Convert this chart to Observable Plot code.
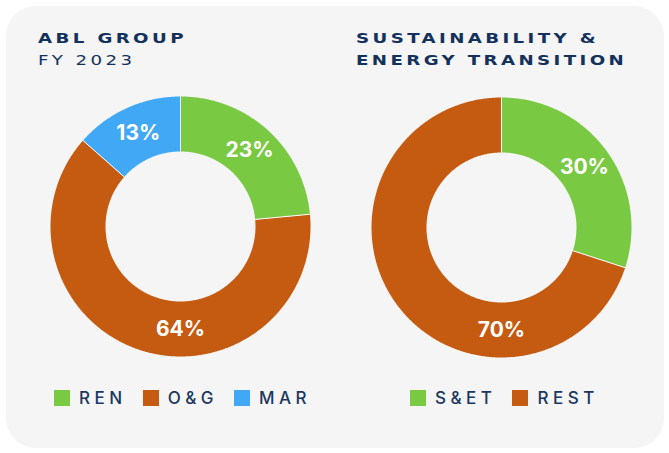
<!DOCTYPE html>
<html><head><meta charset="utf-8">
<script src="https://cdn.jsdelivr.net/npm/d3@7"></script>
<script src="https://cdn.jsdelivr.net/npm/@observablehq/plot@0.6"></script>
<style>
html,body{margin:0;padding:0;background:#fff;width:669px;height:453px;overflow:hidden;}
#card{position:absolute;left:6px;top:6px;width:658px;height:442px;background:#f5f5f5;border-radius:30px;}
.title{position:absolute;color:#14315b;font-family:"DejaVu Sans",sans-serif;font-size:14px;letter-spacing:2.6px;line-height:22px;transform:scaleX(1.3);transform-origin:0 0;white-space:nowrap;}
.title b{font-weight:700;}
.title span{font-weight:400;}
.donut{position:absolute;}
.leg{position:absolute;}
.lg-swatch{margin-right:16px !important;}
.lg-swatch > svg{margin-right:9px !important;}
</style>
</head><body>
<div id="card"></div>
<div class="title" style="left:38px;top:27px;"><b>ABL GROUP</b><br><span>FY 2023</span></div>
<div class="title" style="left:356px;top:27px;"><b>SUSTAINABILITY &amp;<br>ENERGY TRANSITION</b></div>
<div id="d1" class="donut" style="left:40px;top:86px;"></div>
<div id="d2" class="donut" style="left:360.5px;top:87px;"></div>
<div id="l1" class="leg" style="left:54px;top:381.5px;"></div>
<div id="l2" class="leg" style="left:410px;top:381.5px;"></div>
<script>
// ---- data ----
const groupCategories = ["REN", "O&G", "MAR"];
const groupValues = [23.5, 63, 13.5];
const groupLabels = ["23%", "64%", "13%"];

const setCategories = ["S&ET", "REST"];
const setValues = [30, 70];
const setLabels = ["30%", "70%"];

// ---- styles ----
const groupColors = ["#7ac943", "#c55b11", "#41a8f5"];
const setColors = ["#7ac943", "#c55b11"];

function donut(cats, vals, labels, colors) {
  const R = 130, r = 75, half = 140;
  const total = d3.sum(vals);
  let acc = 0;
  const slices = cats.map((c, i) => {
    const a0 = acc / total * 2 * Math.PI;
    acc += vals[i];
    const a1 = acc / total * 2 * Math.PI;
    return {cat: c, a0, a1, label: labels[i]};
  });
  const pts = [];
  for (const s of slices) {
    const n = Math.max(8, Math.ceil((s.a1 - s.a0) / 0.01));
    for (let k = 0; k <= n; k++) {
      const a = s.a0 + (s.a1 - s.a0) * k / n;
      pts.push({cat: s.cat, x: R * Math.sin(a), y: R * Math.cos(a)});
    }
    for (let k = n; k >= 0; k--) {
      const a = s.a0 + (s.a1 - s.a0) * k / n;
      pts.push({cat: s.cat, x: r * Math.sin(a), y: r * Math.cos(a)});
    }
  }
  const seps = slices.map(s => ({x1: r * Math.sin(s.a0), y1: r * Math.cos(s.a0), x2: R * Math.sin(s.a0), y2: R * Math.cos(s.a0)}));
  const lr = (R + r) / 2;
  const lab = slices.map(s => {
    const a = (s.a0 <= Math.PI && s.a1 >= Math.PI) ? Math.PI : (s.a0 + s.a1) / 2;
    return {x: lr * Math.sin(a), y: lr * Math.cos(a), text: s.label};
  });
  return Plot.plot({
    width: 2 * half, height: 2 * half, margin: 0,
    style: {background: "transparent", overflow: "visible"},
    x: {domain: [-half, half], axis: null},
    y: {domain: [-half, half], axis: null},
    color: {domain: cats, range: colors},
    marks: [
      Plot.line(pts, {x: "x", y: "y", z: "cat", fill: "cat", stroke: null}),
      Plot.link(seps, {x1: "x1", y1: "y1", x2: "x2", y2: "y2", stroke: "white", strokeWidth: 1}),
      Plot.text(lab, {x: "x", y: "y", text: "text", fill: "white", fontSize: 21, fontWeight: 700, fontFamily: "Inter, sans-serif"})
    ]
  });
}

function legend(cats, colors) {
  return Plot.legend({
    color: {domain: cats, range: colors},
    legend: "swatches",
    swatchSize: 16,
    className: "lg",
    style: {fontFamily: "Inter, sans-serif", fontSize: "17px", fontWeight: 500, letterSpacing: "4.5px", color: "#1c375e", background: "transparent"}
  });
}

document.getElementById("d1").appendChild(donut(groupCategories, groupValues, groupLabels, groupColors));
document.getElementById("d2").appendChild(donut(setCategories, setValues, setLabels, setColors));
document.getElementById("l1").appendChild(legend(groupCategories, groupColors));
document.getElementById("l2").appendChild(legend(setCategories, setColors));
</script>
</body></html>
